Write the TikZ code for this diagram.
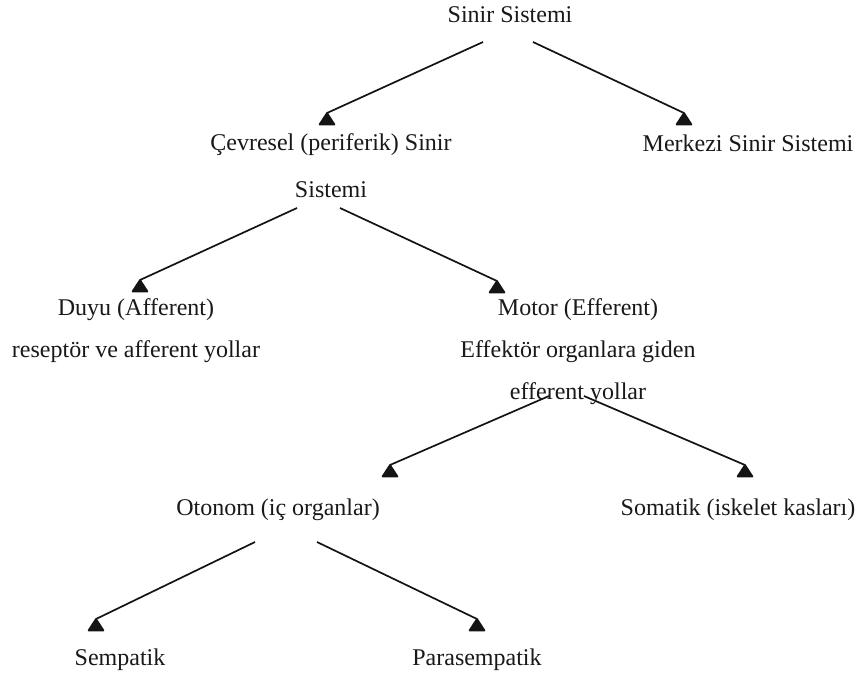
\documentclass[tikz,border=0pt]{standalone}
\usepackage{fontspec}
\setmainfont{Liberation Serif}
\definecolor{txt}{RGB}{25,25,25}
\definecolor{linec}{RGB}{20,20,20}
\begin{document}
\begin{tikzpicture}[x=1pt,y=-1pt,
  lbl/.style={anchor=base, inner sep=0pt, text=txt, font=\fontsize{24}{42}\selectfont},
  conn/.style={draw=linec, fill=linec, line width=1.7pt, line join=round,
    to path={-- (\tikztotarget) -- ++(-7.5,11.5) -- ++(15,0) -- (\tikztotarget)}}]
\useasboundingbox (0,0) rectangle (862,673);
\fill[white] (0,0) rectangle (862,673);

\node[lbl] (ss) at (510,22) {Sinir Sistemi};
\node[lbl, font=\fontsize{24}{47}\selectfont] (cev) at (331,150)
  {\begin{tabular}[t]{@{}c@{}}Çevresel (periferik) Sinir\\Sistemi\end{tabular}};
\node[lbl] (mer) at (748,151) {Merkezi Sinir Sistemi};
\node[lbl] (duyu) at (136,315)
  {\begin{tabular}[t]{@{}c@{}}Duyu (Afferent)\\reseptör ve afferent yollar\end{tabular}};
\node[lbl] (mot) at (578,315)
  {\begin{tabular}[t]{@{}c@{}}Motor (Efferent)\\Effektör organlara giden\\efferent yollar\end{tabular}};
\node[lbl] (oto) at (278,515) {Otonom (iç organlar)};
\node[lbl] (som) at (738,515) {Somatik (iskelet kasları)};
\node[lbl] (sem) at (120,665) {Sempatik};
\node[lbl] (par) at (477,665) {Parasempatik};

\draw[conn] ([shift={(-27,20)}]ss.base) to ([shift={(-4,-37)}]cev.base);
\draw[conn] ([shift={(23,20)}]ss.base) to ([shift={(-64,-38)}]mer.base);
\draw[conn] ([shift={(-34,58)}]cev.base) to ([shift={(4,-35)}]duyu.base);
\draw[conn] ([shift={(9,58)}]cev.base) to ([shift={(-81,-34)}]mot.base);
\draw[conn] ([shift={(-29,81)}]mot.base) to ([shift={(112,-50)}]oto.base);
\draw[conn] ([shift={(6,81)}]mot.base) to ([shift={(7,-50)}]som.base);
\draw[conn] ([shift={(-23,27)}]oto.base) to ([shift={(-24,-46)}]sem.base);
\draw[conn] ([shift={(39,27)}]oto.base) to ([shift={(0,-46)}]par.base);
\end{tikzpicture}
\end{document}
